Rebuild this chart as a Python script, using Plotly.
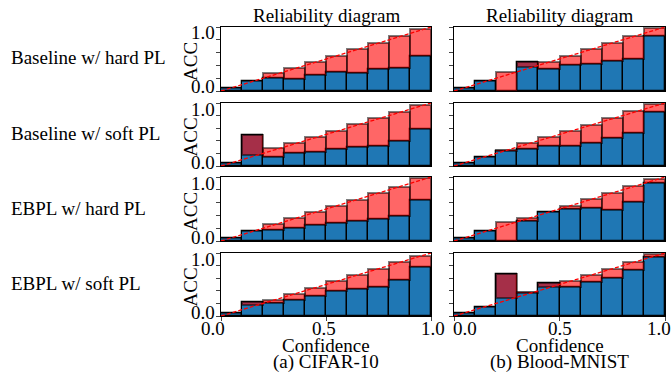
import plotly.graph_objects as go

# ---------------- data ----------------
bin_centers = [0.05, 0.15, 0.25, 0.35, 0.45, 0.55, 0.65, 0.75, 0.85, 0.95]
row_labels = ["Baseline w/ hard PL", "Baseline w/ soft PL", "EBPL w/ hard PL", "EBPL w/ soft PL"]
col_labels = ["(a) CIFAR-10", "(b) Blood-MNIST"]
panel_title = "Reliability diagram"
y_tick_vals = [0.0, 0.2, 0.4, 0.6, 0.8, 1.0]
y_label_vals = [0.0, 1.0]
y_label_text = ["0.0", "1.0"]
x_tick_vals = [0.0, 0.5, 1.0]
x_tick_text = ["0.0", "0.5", "1.0"]

cifar_base_hard_acc = [0.04, 0.15, 0.21, 0.19, 0.25, 0.29, 0.28, 0.34, 0.36, 0.54]
cifar_base_hard_conf = [0.05, 0.15, 0.28, 0.36, 0.45, 0.55, 0.65, 0.75, 0.86, 0.97]
blood_base_hard_acc = [0.04, 0.15, 0.00, 0.45, 0.35, 0.40, 0.42, 0.47, 0.50, 0.86]
blood_base_hard_conf = [0.05, 0.15, 0.29, 0.37, 0.46, 0.55, 0.65, 0.75, 0.86, 0.98]

cifar_base_soft_acc = [0.04, 0.50, 0.15, 0.21, 0.22, 0.27, 0.30, 0.32, 0.39, 0.59]
cifar_base_soft_conf = [0.05, 0.18, 0.28, 0.36, 0.46, 0.56, 0.66, 0.76, 0.86, 0.97]
blood_base_soft_acc = [0.04, 0.14, 0.24, 0.27, 0.32, 0.31, 0.37, 0.45, 0.52, 0.86]
blood_base_soft_conf = [0.05, 0.15, 0.25, 0.36, 0.46, 0.55, 0.65, 0.76, 0.87, 0.99]

cifar_ebpl_hard_acc = [0.04, 0.15, 0.17, 0.21, 0.25, 0.28, 0.31, 0.35, 0.39, 0.64]
cifar_ebpl_hard_conf = [0.05, 0.15, 0.27, 0.36, 0.45, 0.55, 0.64, 0.75, 0.85, 0.98]
blood_ebpl_hard_acc = [0.04, 0.15, 0.00, 0.31, 0.45, 0.50, 0.51, 0.48, 0.61, 0.91]
blood_ebpl_hard_conf = [0.05, 0.15, 0.29, 0.36, 0.45, 0.54, 0.65, 0.75, 0.86, 0.97]

cifar_ebpl_soft_acc = [0.04, 0.23, 0.20, 0.25, 0.31, 0.39, 0.43, 0.46, 0.57, 0.78]
cifar_ebpl_soft_conf = [0.04, 0.18, 0.26, 0.35, 0.45, 0.55, 0.65, 0.75, 0.86, 0.96]
blood_ebpl_soft_acc = [0.04, 0.14, 0.66, 0.37, 0.52, 0.46, 0.54, 0.60, 0.73, 0.94]
blood_ebpl_soft_conf = [0.05, 0.15, 0.29, 0.38, 0.46, 0.55, 0.65, 0.75, 0.86, 0.98]

panels = [
    [(cifar_base_hard_acc, cifar_base_hard_conf), (blood_base_hard_acc, blood_base_hard_conf)],
    [(cifar_base_soft_acc, cifar_base_soft_conf), (blood_base_soft_acc, blood_base_soft_conf)],
    [(cifar_ebpl_hard_acc, cifar_ebpl_hard_conf), (blood_ebpl_hard_acc, blood_ebpl_hard_conf)],
    [(cifar_ebpl_soft_acc, cifar_ebpl_soft_conf), (blood_ebpl_soft_acc, blood_ebpl_soft_conf)],
]

# ---------------- layout geometry (pixels) ----------------
W, H = 672, 374
col_px = [(221, 431), (454, 665)]
row_px = [(27, 91), (103, 166), (177, 241), (253, 316)]
x_label_shift = [[-8, -2, 2], [11, 0, -6]]
y_label_shift = [4, -6]
FONT = "Liberation Serif"
FS = 19

def px_x(x):
    return x / W

def px_y(y):
    return 1 - y / H

fig = go.Figure()
layout = dict(
    width=W, height=H,
    margin=dict(l=0, r=0, t=0, b=0, autoexpand=False),
    paper_bgcolor="white", plot_bgcolor="white",
    showlegend=False, barmode="overlay", bargap=0,
    font=dict(family=FONT, size=FS, color="black"),
)
annotations = []

for r in range(4):
    for c in range(2):
        k = r * 2 + c + 1
        xa = "x" if k == 1 else f"x{k}"
        ya = "y" if k == 1 else f"y{k}"
        acc, conf = panels[r][c]
        gap = [cf - a for a, cf in zip(acc, conf)]
        fig.add_trace(go.Bar(
            x=bin_centers, y=acc, width=0.1, xaxis=xa, yaxis=ya,
            marker=dict(color="#1f77b4", line=dict(color="black", width=1.3)),
        ))
        fig.add_trace(go.Bar(
            x=bin_centers, y=gap, base=acc, width=0.1, xaxis=xa, yaxis=ya,
            marker=dict(color="rgba(255,0,0,0.6)", line=dict(color="rgba(0,0,0,0.5)", width=2)),
        ))
        fig.add_trace(go.Scatter(
            x=[0, 1], y=[0, 1], mode="lines", xaxis=xa, yaxis=ya,
            line=dict(color="red", width=1.3, dash="4px,2px"),
        ))
        x0, x1 = col_px[c]
        y0, y1 = row_px[r]
        bottom = (r == 3)
        layout["xaxis" if k == 1 else f"xaxis{k}"] = dict(
            domain=[px_x(x0), px_x(x1)], anchor=ya, range=[0, 1],
            showgrid=False, zeroline=False, automargin=False,
            showline=True, linecolor="black", linewidth=1, mirror=True,
            ticks="outside" if bottom else "", ticklen=4,
            tickvals=x_tick_vals if bottom else [],
            showticklabels=False,
        )
        layout["yaxis" if k == 1 else f"yaxis{k}"] = dict(
            domain=[px_y(y1), px_y(y0)], anchor=xa, range=[0, 1],
            showgrid=False, zeroline=False, automargin=False,
            showline=True, linecolor="black", linewidth=1, mirror=True,
            ticks="outside", ticklen=4,
            tickvals=y_tick_vals, showticklabels=False,
        )
        # tick labels as text placed on the axis scale
        if c == 0:
            for v, t, s in zip(y_label_vals, y_label_text, y_label_shift):
                annotations.append(dict(
                    text=t, xref=f"{xa} domain", yref=ya, x=0, y=v,
                    xanchor="right", yanchor="middle", xshift=-4, yshift=s,
                    showarrow=False, font=dict(family=FONT, size=FS),
                ))
            annotations.append(dict(
                text="ACC", xref="paper", yref="paper",
                x=px_x(190), y=px_y((y0 + y1) / 2 + 3),
                xanchor="center", yanchor="middle", textangle=-90,
                showarrow=False, font=dict(family=FONT, size=FS),
            ))
        if bottom:
            for v, t, s in zip(x_tick_vals, x_tick_text, x_label_shift[c]):
                annotations.append(dict(
                    text=t, xref=xa, yref=f"{ya} domain", x=v, y=0,
                    xanchor="center", yanchor="top", xshift=s, yshift=0,
                    showarrow=False, font=dict(family=FONT, size=FS),
                ))

for r in range(4):
    y0, y1 = row_px[r]
    annotations.append(dict(
        text=row_labels[r], xref="paper", yref="paper",
        x=px_x(9), y=px_y((y0 + y1) / 2 - 1),
        xanchor="left", yanchor="middle", showarrow=False,
        font=dict(family=FONT, size=FS),
    ))

for c in range(2):
    x0, x1 = col_px[c]
    xc = (x0 + x1) / 2
    annotations.append(dict(
        text=panel_title, xref="paper", yref="paper",
        x=px_x(xc), y=px_y(15), xanchor="center", yanchor="middle",
        showarrow=False, font=dict(family=FONT, size=FS),
    ))
    annotations.append(dict(
        text="Confidence", xref="paper", yref="paper",
        x=px_x(xc), y=px_y(345), xanchor="center", yanchor="middle",
        showarrow=False, font=dict(family=FONT, size=FS),
    ))
    annotations.append(dict(
        text=col_labels[c], xref="paper", yref="paper",
        x=px_x(xc), y=px_y(362), xanchor="center", yanchor="middle",
        showarrow=False, font=dict(family=FONT, size=FS),
    ))

layout["annotations"] = annotations
fig.update_layout(**layout)
fig.write_html(
    "out.html",
    config={"displayModeBar": False},
    post_script="document.body.style.margin='0px';document.body.style.padding='0px';",
)
